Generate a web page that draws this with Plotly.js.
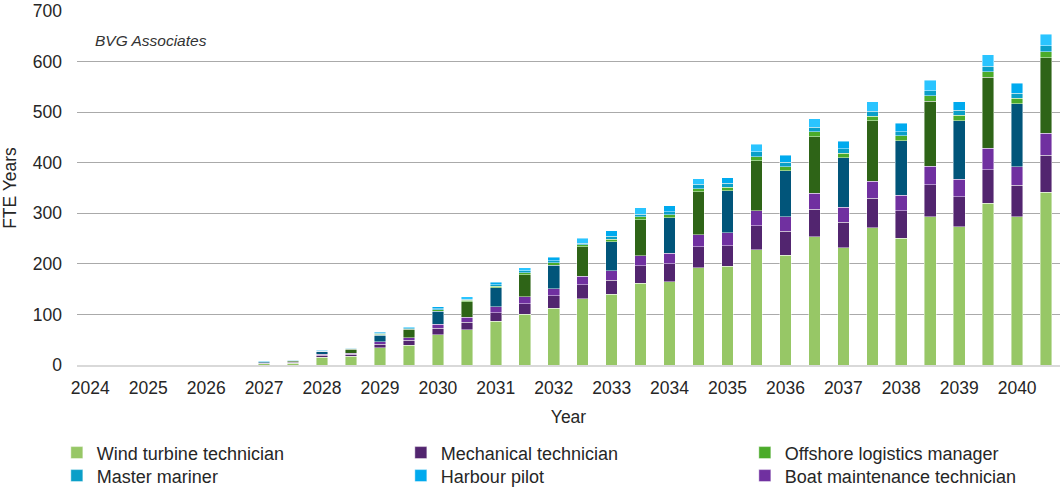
<!DOCTYPE html>
<html>
<head>
<meta charset="utf-8">
<script src="https://cdn.plot.ly/plotly-3.0.1.min.js"></script>
<style>html,body{margin:0;padding:0;background:#fff;}#chart{width:1060px;height:491px;}</style>
</head>
<body>
<div id="chart"></div>
<script>
// Half-year positions (two bars per year)
const years = [2024, 2024.5, 2025, 2025.5, 2026, 2026.5, 2027, 2027.5, 2028, 2028.5, 2029, 2029.5,
  2030, 2030.5, 2031, 2031.5, 2032, 2032.5, 2033, 2033.5, 2034, 2034.5, 2035, 2035.5,
  2036, 2036.5, 2037, 2037.5, 2038, 2038.5, 2039, 2039.5, 2040, 2040.5];
const tickYears = [2024, 2025, 2026, 2027, 2028, 2029, 2030, 2031, 2032, 2033, 2034, 2035, 2036, 2037, 2038, 2039, 2040];
const tickLabels = ["2024", "2025", "2026", "2027", "2028", "2029", "2030", "2031", "2032", "2033", "2034", "2035", "2036", "2037", "2038", "2039", "2040"];

const windTurbineTechnician = [null, null, null, null, null, null, 2, 3, 15, 17, 34, 39.5, 60, 70, 86.5, 100, 112, 131, 140, 162, 165, 192.5, 195, 227.5, 217.5, 254, 232, 271.5, 251, 293, 273.5, 320, 293, 341.5];
const mechanicalTechnician = [null, null, null, null, null, null, 1.5, 2, 4, 4.5, 7, 9.5, 12.5, 15, 17, 21, 25, 28, 28, 34.5, 35.5, 41, 41, 48, 47, 54, 50, 58, 54, 63, 59.5, 66, 62.5, 73];
const boatMaintenanceTechnician = [null, null, null, null, null, null, 1, 1, 2.5, 2, 5, 4.5, 8, 9.5, 12, 14, 14, 16.5, 18, 19.5, 20, 24.5, 25.5, 29.5, 28.5, 31.5, 30, 34, 31, 37.5, 34, 42.5, 37, 43.5];
const seriesDarkGreen = [null, null, null, null, null, null, null, 2, null, 8, null, 17, null, 31, null, 43.5, null, 58, null, 71.5, null, 85, null, 99, null, 112, null, 119, null, 128, null, 140.5, null, 149.5];
const seriesNavy = [null, null, null, null, null, null, 1.5, null, 5.5, null, 13, null, 25.5, null, 37.5, null, 46.5, null, 58, null, 71, null, 83, null, 91.5, null, 98, null, 107.5, null, 116, null, 124.5, null];
const offshoreLogisticsManager = [null, null, null, null, null, null, 0.3, 0.5, 0.5, 0.7, 2, 1.5, 3, 3, 3, 4, 4.5, 4.5, 5, 6, 5.5, 6, 6.5, 8, 8, 10, 9, 9.5, 9.5, 11, 11, 11, 10, 12];
const masterMariner = [null, null, null, null, null, null, 0.5, 0.7, 0.5, 0.8, 1.5, 1.5, 2.5, 2, 3, 3.5, 4.5, 3, 5.5, 5, 6.5, 8.5, 8, 10, 8, 9, 9, 10, 8.5, 10, 9.5, 10.5, 10, 12];
const harbourPilot = [null, null, null, null, null, null, 0.5, 0.7, 1, 1.3, 2, 2.5, 3.5, 4, 5, 6.5, 6.5, 10, 10.5, 12, 11, 11, 11, 15, 14, 16.5, 14, 18.5, 16.5, 21, 17.5, 23, 20.5, 23];

// styles
const harbourColors = years.map((y, i) => (i % 2 === 0 ? '#00AAEE' : '#2AC4FF'));
const edge = {color: 'rgba(255,255,255,0.55)', width: 0.8};
const BW = 0.2;

function bar(name, y, color, legend, rank, showlegend) {
  return {type: 'bar', name: name, x: years, y: y, width: BW,
    marker: {color: color, line: edge}, legend: legend, legendrank: rank, showlegend: showlegend,
    hovertemplate: name + ': %{y}<extra></extra>'};
}

const traces = [
  bar('Wind turbine technician', windTurbineTechnician, '#97C766', 'legend', 1, true),
  bar('Mechanical technician', mechanicalTechnician, '#52256F', 'legend', 2, true),
  bar('Boat maintenance technician', boatMaintenanceTechnician, '#7030A0', 'legend2', 3, true),
  bar('Series 7', seriesDarkGreen, '#2E6417', 'legend', 9, false),
  bar('Series 8', seriesNavy, '#01557A', 'legend', 9, false),
  bar('Offshore logistics manager', offshoreLogisticsManager, '#4BAB2A', 'legend', 3, true),
  bar('Master mariner', masterMariner, '#0A9FC8', 'legend2', 1, true),
  bar('Harbour pilot', harbourPilot, harbourColors, 'legend2', 2, true)
];

const fontFam = '"Liberation Sans", Arial, sans-serif';
const legendBase = {
  orientation: 'h', x: -0.0205, xanchor: 'left', yanchor: 'top',
  entrywidth: 299, entrywidthmode: 'pixels', traceorder: 'normal',
  font: {size: 18, color: '#262626'}, bgcolor: 'rgba(0,0,0,0)'
};
const layout = {
  width: 1060, height: 491,
  margin: {l: 77, r: 0, t: 11, b: 126, autoexpand: false},
  paper_bgcolor: '#ffffff', plot_bgcolor: '#ffffff',
  barmode: 'stack',
  font: {family: fontFam, size: 17, color: '#262626'},
  xaxis: {
    range: [2023.77, 2040.74], tickvals: tickYears, ticktext: tickLabels,
    showgrid: false, zeroline: false, showline: true, linecolor: '#d9d9d9', linewidth: 2,
    ticks: '', ticklabelstandoff: 6, tickfont: {size: 17.5, color: '#262626'},
    title: {text: 'Year', font: {size: 17.5, color: '#262626'}, standoff: 14}
  },
  yaxis: {
    range: [0, 700], tickvals: [0, 100, 200, 300, 400, 500, 600, 700],
    showgrid: true, gridcolor: '#aaaaaa', gridwidth: 1, zeroline: false, showline: false,
    ticks: '', ticklabelstandoff: 14, tickfont: {size: 17.5, color: '#262626'},
    title: {text: 'FTE Years', font: {size: 17.5, color: '#262626'}, standoff: 12}
  },
  showlegend: true,
  legend: Object.assign({}, legendBase, {y: -0.196}),
  legend2: Object.assign({}, legendBase, {y: -0.261}),
  annotations: [{
    text: '<i>BVG Associates</i>', xref: 'paper', yref: 'paper', x: 0.016, y: 0.918,
    xanchor: 'left', yanchor: 'middle', showarrow: false,
    font: {size: 15.5, color: '#333333', family: fontFam}
  }]
};

Plotly.newPlot('chart', traces, layout, {displayModeBar: false, staticPlot: true});
</script>
</body>
</html>
